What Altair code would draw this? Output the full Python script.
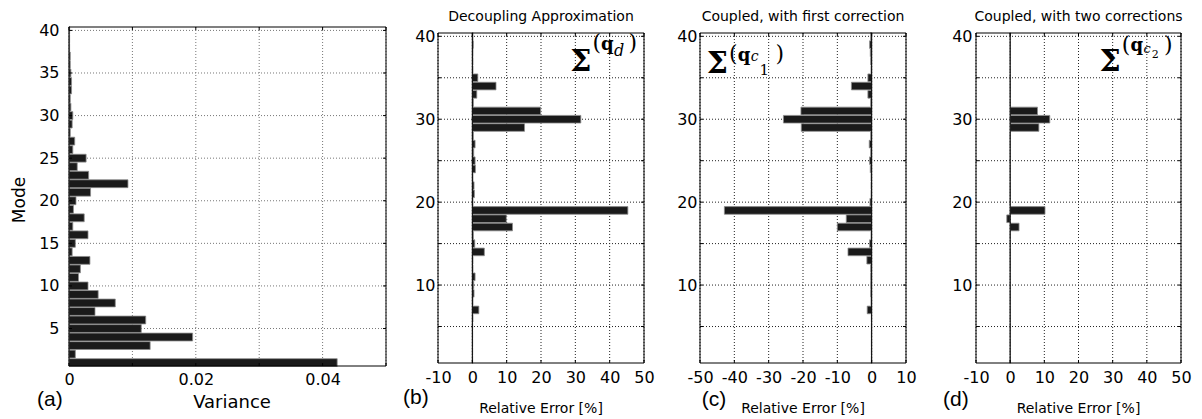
import altair as alt
import pandas as pd

# ---------------- data ----------------
modes = list(range(1, 41))

variance = [0.0423, 0.0010, 0.0128, 0.0195, 0.0114, 0.0121, 0.0041, 0.0073, 0.0046, 0.0030,
            0.0015, 0.0018, 0.0033, 0.0005, 0.0010, 0.0030, 0.0006, 0.0024, 0.0007, 0.0011,
            0.0034, 0.0093, 0.0031, 0.0013, 0.0027, 0.0006, 0.0009, 0.0002, 0.0005, 0.0006,
            0.0003, 0.0002, 0.0004, 0.0004, 0.0003, 0.0002, 0.0002, 0.0001, 0.0001, 0.0001]

err_decoupled = [0.1, 0.1, 0.1, 0.1, 0.1, 0.2, 1.9, 0.2, 0.5, 0.4,
                 0.8, 0.2, 0.2, 3.5, 0.7, 0.3, 11.7, 9.9, 45.3, 0.2,
                 0.6, 0.5, 0.2, 0.9, 0.8, 0.4, 0.8, 0.3, 15.2, 31.6,
                 19.9, 0.3, 1.3, 6.9, 1.6, 0.2, 0.2, 0.2, 0.3, 0.2]

err_first = [-0.1, -0.1, -0.1, -0.1, -0.1, -0.1, -1.3, -0.2, -0.3, -0.3,
             -0.3, -0.3, -1.4, -6.9, -0.6, -0.2, -10.0, -7.4, -42.9, -0.5,
             -0.2, -0.2, -0.2, -0.4, -0.6, -0.3, -0.7, -0.3, -20.5, -25.7,
             -20.6, -0.3, -1.1, -5.9, -1.1, -0.2, -0.3, -0.4, -0.6, -0.3]

err_two = [0.0, 0.0, 0.0, 0.0, 0.0, 0.0, 0.0, 0.0, 0.0, 0.0,
           0.0, 0.0, 0.0, 0.0, 0.0, 0.0, 2.6, -1.0, 10.2, 0.0,
           0.0, 0.0, 0.0, 0.0, 0.0, 0.0, 0.0, 0.0, 8.4, 11.6,
           8.0, 0.0, 0.0, 0.0, 0.0, 0.0, 0.0, 0.0, 0.0, 0.0]

y_ticks = [5, 10, 15, 20, 25, 30, 35, 40]
x_ticks_a = [0, 0.01, 0.02, 0.03, 0.04, 0.05]
x_ticks_b = [-10, 0, 10, 20, 30, 40, 50]
x_ticks_c = [-50, -40, -30, -20, -10, 0, 10]
x_ticks_d = [-10, 0, 10, 20, 30, 40, 50]

titles = ["", "Decoupling Approximation", "Coupled, with first correction", "Coupled, with two corrections"]
panel_tags = ["(a)", "(b)", "(c)", "(d)"]
x_titles = ["Variance", "Relative Error [%]", "Relative Error [%]", "Relative Error [%]"]
y_title_a = "Mode"

FONT = "DejaVu Sans"
TAGFONT = "Liberation Sans"
SERIF = "DejaVu Serif"

one = pd.DataFrame({"k": [0]})


def text_layer(s, x, y, size, font=FONT, weight="normal", style="normal", align="left", angle=0):
    kw = dict(text=s, font=font, fontSize=size, fontWeight=weight, fontStyle=style,
              align=align, baseline="alphabetic", color="black")
    if angle:
        kw["angle"] = angle
    return alt.Chart(one).mark_text(**kw).encode(x=alt.value(x), y=alt.value(y))


def sigma_label(x0, y0, sup_dy, sub1, sub1_dy, sub1_size, sub2=None, sub2_dy=0, sub2_size=11,
                close_x=None):
    """Sigma with superscript (q_sub): positions relative to the plot box."""
    px = x0 + 22.3
    qx = px + 8.6
    sx = qx + 13.0
    out = [text_layer("Σ", x0, y0, 30, font=SERIF, weight="bold"),
           text_layer("(", px, y0 + sup_dy, 22, font=SERIF),
           text_layer("q", qx, y0 + sup_dy - 0.5, 18, font=SERIF, weight="bold"),
           text_layer(sub1, sx, y0 + sub1_dy, sub1_size, font=SERIF, style="italic")]
    if sub2 is not None:
        out.append(text_layer(sub2, sx + 0.6 * sub1_size + 0.5, y0 + sub2_dy, sub2_size, font=SERIF))
    out.append(text_layer(")", close_x, y0 + sup_dy, 22, font=SERIF))
    return out


def panel(vals, xdom, xticks, W, H, top, grid_color, label_size, ylab_pad, xlab_pad,
          xfmt, xlabel_expr, ylabel_expr, ext, zero_line, extras):
    # plot box spans y = top .. H inside the group
    xs = alt.Scale(domain=xdom, nice=False, zero=False)
    ys = alt.Scale(domain=[0.6, 40.4], nice=False, zero=False, range=[H, top])
    df = pd.DataFrame({"mode": modes, "value": vals})
    xaxis = alt.Axis(values=xticks, title=None, grid=False, domain=False, ticks=False,
                     labelFont=FONT, labelFontSize=label_size,
                     labelColor="black", labelPadding=xlab_pad, labelFlush=False, labelOverlap=False,
                     format=xfmt, labelExpr=xlabel_expr)
    yaxis = alt.Axis(values=y_ticks, title=None, grid=False, domain=False, ticks=False,
                     labelFont=FONT, labelFontSize=label_size,
                     labelColor="black", labelPadding=ylab_pad, labelFlush=False, labelOverlap=False,
                     labelExpr=ylabel_expr)
    xt = pd.DataFrame({"t": xticks})
    yt = pd.DataFrame({"t": y_ticks})
    layers = []
    # dotted grid
    layers.append(alt.Chart(xt).mark_rule(color=grid_color, strokeDash=[1, 2], strokeWidth=1).encode(
        x=alt.X("t:Q", scale=xs, axis=xaxis), y=alt.value(top), y2=alt.value(H)))
    layers.append(alt.Chart(yt).mark_rule(color=grid_color, strokeDash=[1, 2], strokeWidth=1).encode(
        y=alt.Y("t:Q", scale=ys, axis=yaxis), x=alt.value(0), x2=alt.value(W)))
    bars = alt.Chart(df).transform_calculate(
        lo="datum.mode - 0.46", hi="datum.mode + 0.46", zero="0"
    ).mark_rect(fill="#1a1a1a", stroke="#8c8c8c", strokeWidth=0.8).encode(
        x=alt.X("zero:Q", scale=xs, axis=xaxis),
        x2="value:Q",
        y=alt.Y("lo:Q", scale=ys, axis=yaxis),
        y2="hi:Q",
    )
    layers.append(bars)
    if zero_line:
        layers.append(alt.Chart(pd.DataFrame({"z": [0]})).mark_rule(color="black", strokeWidth=1).encode(
            x=alt.X("z:Q", scale=xs, axis=xaxis), y=alt.value(top), y2=alt.value(H)))
    # inward ticks on all four sides
    layers.append(alt.Chart(xt).mark_rule(color="black").encode(
        x=alt.X("t:Q", scale=xs, axis=xaxis), y=alt.value(top), y2=alt.value(top + 3)))
    layers.append(alt.Chart(xt).mark_rule(color="black").encode(
        x=alt.X("t:Q", scale=xs, axis=xaxis), y=alt.value(H - 3), y2=alt.value(H)))
    layers.append(alt.Chart(yt).mark_rule(color="black").encode(
        y=alt.Y("t:Q", scale=ys, axis=yaxis), x=alt.value(0), x2=alt.value(3)))
    layers.append(alt.Chart(yt).mark_rule(color="black").encode(
        y=alt.Y("t:Q", scale=ys, axis=yaxis), x=alt.value(W - 3), x2=alt.value(W)))
    # plot box
    layers.append(alt.Chart(one).mark_rect(fill=None, fillOpacity=0, stroke="black", strokeWidth=1).encode(
        x=alt.value(0), x2=alt.value(W), y=alt.value(top), y2=alt.value(H)))
    # invisible extent marker controlling layout bounds
    L, R, T = ext
    layers.append(alt.Chart(one).mark_rule(opacity=0, strokeOpacity=0).encode(
        x=alt.value(-L), x2=alt.value(W + R), y=alt.value(-T), y2=alt.value(-T)))
    layers.extend(extras)
    return alt.layer(*layers).properties(width=W, height=H)


# panel a : box from y=27 to 366
Wa, Ha = 317, 339
pa = panel(variance, [0, 0.05], x_ticks_a, Wa, Ha, 0, "#777777", 16, 10, 5, ".2~f",
           "(round(datum.value*100) % 2 == 0) ? datum.label : ''", "datum.label",
           (61, 16, 19), False,
           [text_layer(y_title_a, -44, 173, 17, align="center", angle=270),
            text_layer(x_titles[0], 163, 381, 18, align="center"),
            text_layer(panel_tags[0], -32, 378.6, 21, font=TAGFONT)])

# panels b-d : group from y=27 to 363, box from y=33
H, TOP = 336, 6
ylab = "datum.value % 10 == 0 ? datum.label : ''"
xlab = "'' + datum.value"
Wb = 206
pb = panel(err_decoupled, [-10, 50], x_ticks_b, Wb, H, TOP, "#222222", 16, 3, 6, "d", xlab, ylab,
           (36, 26, 19), True,
           [text_layer(titles[1], Wb / 2, TOP - 12.3, 14, align="center"),
            text_layer(x_titles[1], Wb / 2, TOP + 380.3, 14, align="center"),
            text_layer(panel_tags[1], -35, TOP + 370.6, 21, font=TAGFONT)]
           + sigma_label(132.2, TOP + 38.3, -21.3, "d", -15.8, 16, close_x=190.5))

Wc = 206
pc = panel(err_first, [-50, 10], x_ticks_c, Wc, H, TOP, "#222222", 16, 3, 6, "d", xlab, ylab,
           (30, 35, 19), True,
           [text_layer(titles[2], Wc / 2, TOP - 12.3, 14, align="center"),
            text_layer(x_titles[2], Wc / 2, TOP + 380.3, 14, align="center"),
            text_layer(panel_tags[2], 1.7, TOP + 372.6, 21, font=TAGFONT)]
           + sigma_label(6.8, TOP + 40, -12, "c", -11.7, 14, sub2="1", sub2_dy=1.7, sub2_size=15,
                         close_x=75.5))

Wd = 205
pd_ = panel(err_two, [-10, 50], x_ticks_d, Wd, H, TOP, "#222222", 16, 4, 6, "d", xlab, ylab,
            (35, 10, 19), True,
            [text_layer(titles[3], Wd / 2, TOP - 12.3, 14, align="center"),
             text_layer(x_titles[3], Wd / 2, TOP + 380.3, 14, align="center"),
             text_layer(panel_tags[3], -33, TOP + 372.6, 21, font=TAGFONT)]
            + sigma_label(123.5, TOP + 38.3, -19.8, "c", -18.3, 13, sub2="2", sub2_dy=-13.3, sub2_size=11,
                          close_x=188))

chart = alt.hconcat(pa, pb, pc, pd_, spacing=0).properties(
    padding={"left": 0, "top": 0, "right": 0, "bottom": 0},
    background="white",
).configure_view(stroke=None)

chart.save("out.html", embed_options={"renderer": "svg", "actions": False})
